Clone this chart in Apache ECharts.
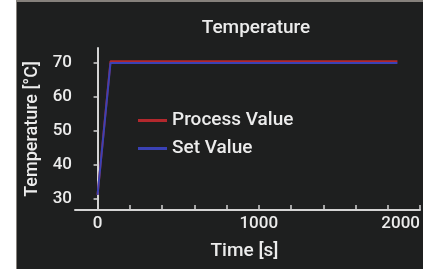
<!DOCTYPE html>
<html>
<head>
<meta charset="utf-8">
<script src="https://cdn.jsdelivr.net/npm/echarts@6/dist/echarts.min.js"></script>
<style>
  body { margin: 0; background: #ffffff; }
  #frame { position: absolute; left: 16px; top: 0; width: 406px; height: 267px;
           background: #1e1f1f; border-left: 1px solid #86817c; border-top: 2px solid #86817c; }
  #chart { position: absolute; left: 0; top: 0; width: 423px; height: 269px; }
</style>
</head>
<body>
<div id="frame"></div>
<div id="chart"></div>
<script>
// time in seconds, temperature in °C
const processTime = [0, 80, 1860];
const processValue = [31.2, 70.3, 70.3];
const setTime = [0, 80, 1860];
const setValue = [31.2, 69.8, 69.8];

const xTicks = [0, 200, 400, 600, 800, 1000, 1200, 1400, 1600, 1800, 2000];
const xLabels = [0, 1000, 2000];
const yTicks = [30, 40, 50, 60, 70];

const textColor = '#ececec';
const axisColor = '#d4d4d4';
const font = 'Roboto';
const weight = 500;

const chart = echarts.init(document.getElementById('chart'));

chart.setOption({
  animation: false,
  backgroundColor: 'transparent',
  title: {
    text: 'Temperature',
    left: 251,
    top: 14,
    textAlign: 'center',
    textStyle: { color: textColor, fontFamily: font, fontSize: 19, fontWeight: weight }
  },
  legend: {
    orient: 'vertical',
    left: 133,
    top: 106,
    icon: 'rect',
    itemWidth: 29,
    itemHeight: 3,
    itemGap: 9,
    textStyle: { color: textColor, fontFamily: font, fontSize: 19, fontWeight: weight },
    data: ['Process Value', 'Set Value']
  },
  grid: { left: 75, top: 48, width: 353, height: 162 },
  xAxis: {
    type: 'value',
    min: -140,
    max: 2000,
    name: 'Time [s]',
    nameLocation: 'middle',
    nameGap: 32,
    nameTextStyle: { color: textColor, fontFamily: font, fontSize: 19, fontWeight: weight, padding: [0, 6, 0, 0] },
    axisLine: { show: true, lineStyle: { color: axisColor, width: 2 } },
    axisTick: { show: true, inside: true, length: 5, customValues: xTicks, lineStyle: { color: axisColor, width: 1.5 } },
    axisLabel: { color: textColor, fontFamily: font, fontSize: 17, fontWeight: weight, margin: 5,
                 customValues: xLabels, alignMaxLabel: 'right', formatter: v => String(v) },
    splitLine: { show: false }
  },
  yAxis: {
    type: 'value',
    min: 26.8,
    max: 74.2,
    name: 'Temperature [°C]',
    nameLocation: 'middle',
    nameGap: 33,
    nameTextStyle: { color: textColor, fontFamily: font, fontSize: 18, fontWeight: weight },
    axisLine: { show: true, lineStyle: { color: axisColor, width: 2 } },
    axisTick: { show: true, inside: false, length: 4, customValues: yTicks, lineStyle: { color: axisColor, width: 1.5 } },
    axisLabel: { color: textColor, fontFamily: font, fontSize: 17, fontWeight: weight, margin: 3,
                 customValues: yTicks, formatter: v => String(v) },
    splitLine: { show: false }
  },
  series: [
    {
      name: 'Process Value',
      type: 'line',
      showSymbol: false,
      data: processTime.map((t, i) => [t, processValue[i]]),
      lineStyle: { color: '#b3282d', width: 2 },
      itemStyle: { color: '#b3282d' }
    },
    {
      name: 'Set Value',
      type: 'line',
      showSymbol: false,
      data: setTime.map((t, i) => [t, setValue[i]]),
      lineStyle: { color: '#3a41b5', width: 2 },
      itemStyle: { color: '#3a41b5' }
    }
  ]
});
</script>
</body>
</html>
